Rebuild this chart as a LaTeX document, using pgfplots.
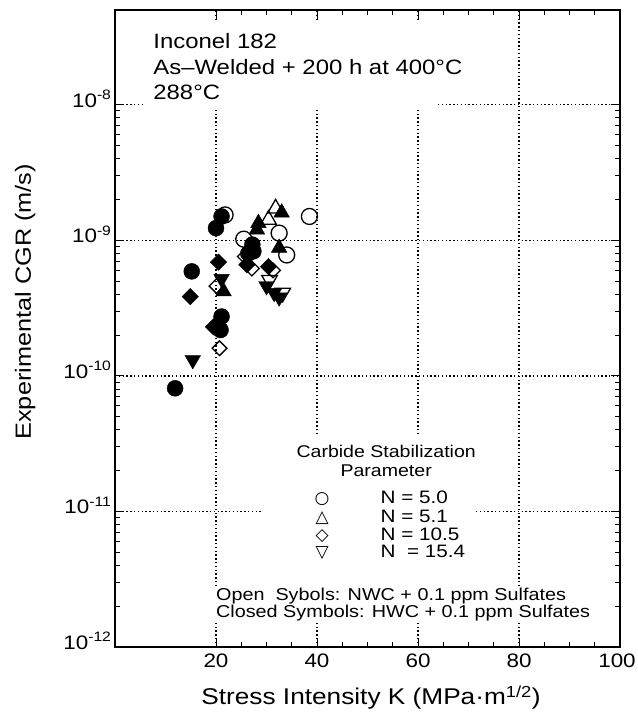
\documentclass[border=0pt]{standalone}
\usepackage{fontspec}
\setmainfont{Liberation Sans}[FakeStretch=1.15]
\newfontfamily\symfont{DejaVu Sans}
\usepackage{pgfplots}
\pgfplotsset{compat=1.18}

\begin{document}
\begin{tikzpicture}
\useasboundingbox (-115pt,-80pt) rectangle (522pt,647pt);
\begin{axis}[
    at={(0,0)}, anchor=south west,
    scale only axis, width=505pt, height=637pt,
    xmin=0, xmax=100,
    ymode=log, ymin=1e-12, ymax=5e-8,
    xtick={20,40,60,80,100},
    xticklabels={20,40,60,80,\kern-6pt 100},
    minor x tick num=3,
    ytick={1e-12,1e-11,1e-10,1e-9,1e-8},
    yticklabels={10\textsuperscript{-12},10\textsuperscript{-11},10\textsuperscript{-10},10\textsuperscript{-9},10\textsuperscript{-8}},
    tick align=inside,
    major tick length=9pt, minor tick length=5pt,
    tick style={line width=1pt, black},
    axis line style={line width=1.5pt},
    xmajorgrids=true, ymajorgrids=true,
    major grid style={black, line width=1.4pt, dash pattern=on 1.4pt off 2.4pt},
    tick label style={font=\fontsize{19.5}{19.5}\selectfont},
    xticklabel style={yshift=-3pt},
    yticklabel style={yshift=6pt},
    xlabel={Stress Intensity K (MPa·m\textsuperscript{1/2})},
    ylabel={Experimental CGR (m/s)},
    xlabel style={at={(axis description cs:0.507,-0.091)}, anchor=base, font=\fontsize{22.8}{22.8}\selectfont},
    ylabel style={at={(axis description cs:-0.178,0.542)}, anchor=center, font=\fontsize{22}{22}\selectfont},
]

% text areas break the grid lines
\fill[white] (axis description cs:0.059,0.843) rectangle (axis description cs:0.638,0.984);
\fill[white] (axis description cs:0.291,0.334) rectangle (axis description cs:0.711,0.0895);

% open symbols: NWC
\addplot[only marks, mark=o, mark size=8pt, mark options={line width=1.3pt, fill=white, draw=black}]
    coordinates {(21.8,1.54e-9)(25.5,1.02e-9)(32.5,1.13e-9)(34.0,7.8e-10)(38.5,1.5e-9)};
\addplot[only marks, mark=triangle, mark size=9pt, mark options={line width=1.3pt, fill=white, draw=black}]
    coordinates {(30.4,1.42e-9)(31.8,1.72e-9)};
\addplot[only marks, mark=triangle, mark size=9pt, mark options={rotate=180, line width=1.3pt, fill=white, draw=black}]
    coordinates {(30.6,5.1e-10)(33.2,4.1e-10)};

% closed symbols: HWC
\addplot[only marks, mark=*, mark size=8pt, mark options={fill=black, draw=black}]
    coordinates {(11.9,8.1e-11)(15.2,5.9e-10)(20.0,1.23e-9)(21.1,1.5e-9)(21.1,2.74e-10)(20.9,2.18e-10)(27.2,9.3e-10)(27.4,8.3e-10)(26.4,8.0e-10)};
\addplot[only marks, mark=triangle*, mark size=9pt, mark options={fill=black, draw=black}]
    coordinates {(28.4,1.34e-9)(28.1,1.2e-9)(33.0,1.6e-9)(32.5,8.8e-10)(21.5,4.2e-10)};
\addplot[only marks, mark=square*, mark size=5.8pt, mark options={rotate=45, fill=black, draw=black}]
    coordinates {(14.9,3.85e-10)(20.5,6.9e-10)(19.5,2.3e-10)(26.1,6.6e-10)(30.4,6.4e-10)};
\addplot[only marks, mark=triangle*, mark size=9pt, mark options={rotate=180, fill=black, draw=black}]
    coordinates {(15.4,1.31e-10)(21.1,5.2e-10)(30.0,4.6e-10)(31.5,4.1e-10)(32.5,3.8e-10)};

% open diamonds on top
\addplot[only marks, mark=square, mark size=5.2pt, mark options={rotate=45, line width=1.3pt, fill=white, draw=black}]
    coordinates {(20.1,4.6e-10)(20.7,1.6e-10)(25.7,7.6e-10)(27.1,6.2e-10)(31.3,6.0e-10)};

% annotations
\node[anchor=base west, font=\fontsize{20.8}{20.8}\selectfont] at (axis description cs:0.069,0.940) {Inconel 182};
\node[anchor=base west, font=\fontsize{20.8}{20.8}\selectfont] at (axis description cs:0.069,0.898) {As–Welded + 200 h at 400°C};
\node[anchor=base west, font=\fontsize{20.8}{20.8}\selectfont] at (axis description cs:0.069,0.859) {288°C};

\node[anchor=base, font=\fontsize{17}{17}\selectfont] at (axis description cs:0.537,0.297) {Carbide Stabilization};
\node[anchor=base, font=\fontsize{17}{17}\selectfont] at (axis description cs:0.537,0.267) {Parameter};
\node[anchor=base, font=\symfont\fontsize{17}{17}\selectfont] at (axis description cs:0.410,0.226) {○};
\node[anchor=base, font=\symfont\fontsize{17}{17}\selectfont] at (axis description cs:0.410,0.196) {△};
\node[anchor=base, font=\symfont\fontsize{17}{17}\selectfont] at (axis description cs:0.410,0.168) {◇};
\node[anchor=base, font=\symfont\fontsize{17}{17}\selectfont] at (axis description cs:0.410,0.140) {▽};
\node[anchor=base west, font=\fontsize{18}{18}\selectfont] at (axis description cs:0.519,0.226) {N = 5.0};
\node[anchor=base west, font=\fontsize{18}{18}\selectfont] at (axis description cs:0.519,0.196) {N = 5.1};
\node[anchor=base west, font=\fontsize{18}{18}\selectfont] at (axis description cs:0.519,0.168) {N = 10.5};
\node[anchor=base west, font=\fontsize{18}{18}\selectfont] at (axis description cs:0.519,0.140) {N\ \ = 15.4};

\node[anchor=base west, fill=white, inner sep=1pt, font=\fontsize{17.2}{17.2}\selectfont] at (axis description cs:0.198,0.0730) {Open\ \ Sybols: NWC + 0.1 ppm Sulfates};
\node[anchor=base west, fill=white, inner sep=1pt, font=\fontsize{17.2}{17.2}\selectfont] at (axis description cs:0.198,0.0470) {Closed Symbols: HWC + 0.1 ppm Sulfates};
\end{axis}
\end{tikzpicture}
\end{document}
